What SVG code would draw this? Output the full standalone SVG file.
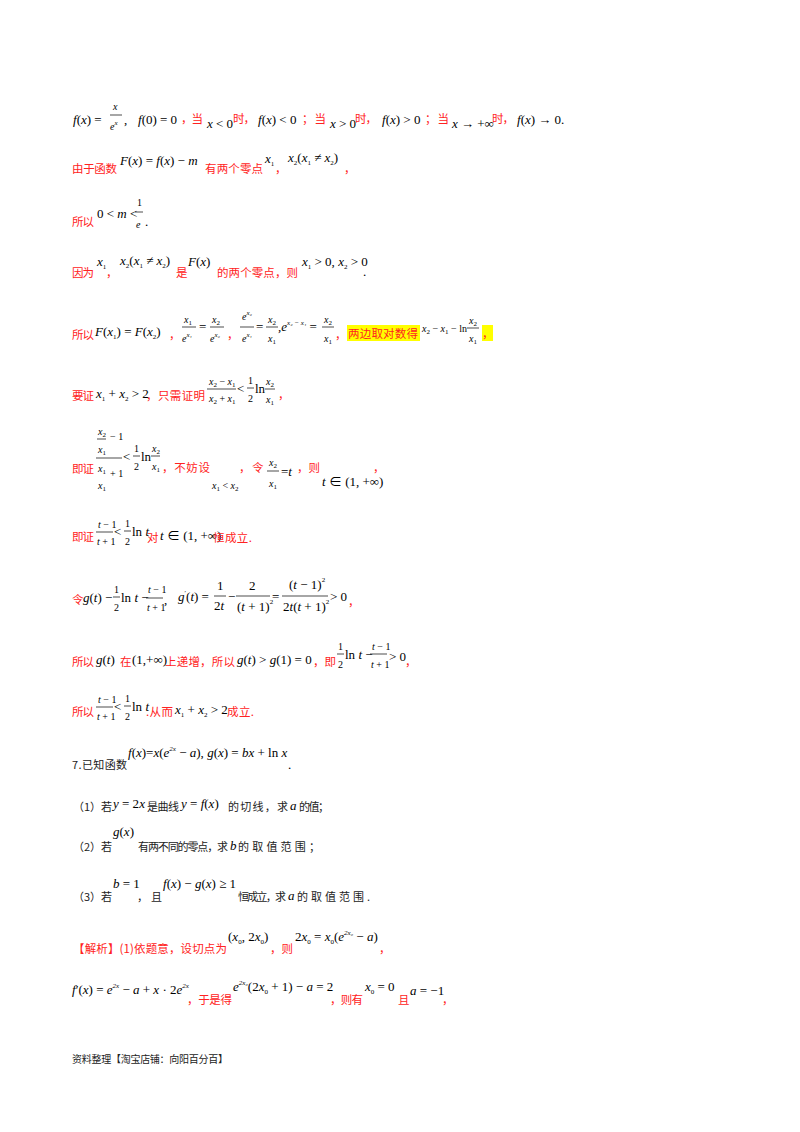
<svg xmlns="http://www.w3.org/2000/svg" width="800" height="1132" viewBox="0 0 800 1132">
<style>
text{font-family:"Liberation Serif","Noto Sans CJK SC",serif;font-size:13px;fill:#000}
.m{font-style:italic}
.u{font-style:normal}
.r{font-family:"Noto Sans CJK SC",sans-serif;fill:#f22;font-size:11.5px;font-style:normal}
.k{font-family:"Noto Sans CJK SC",sans-serif;font-size:11px;fill:#222}
.ft{font-family:"Noto Sans CJK SC",sans-serif;font-size:10px;fill:#222}
.s{font-size:10px}
.t{font-size:7px}
.f{stroke:#000;stroke-width:0.7}
</style>
<rect width="800" height="1132" fill="#fff"/>
<g id="line1">
<text x="73" y="124" class="m">f<tspan class="u">(</tspan>x<tspan class="u">) =</tspan></text>
<text x="113" y="110" class="m s">x</text><line class="f" x1="110" y1="115" x2="122" y2="115"/><text x="110" y="130" class="m s">e<tspan class="t" dy="-5">x</tspan></text>
<text x="124" y="124" class="u">,</text>
<text x="138" y="124" class="m">f<tspan class="u">(0) = 0</tspan></text><text x="181" y="123" class="r" textLength="22">，当</text>
<text x="207" y="128" class="m">x<tspan class="u"> &lt; 0</tspan></text><text x="233" y="123" class="r" textLength="22">时，</text>
<text x="258" y="124" class="m">f<tspan class="u">(</tspan>x<tspan class="u">) &lt; 0</tspan></text><text x="302" y="123" class="r" textLength="24">；当</text>
<text x="330" y="128" class="m">x<tspan class="u"> &gt; 0</tspan></text><text x="355" y="123" class="r" textLength="22">时，</text>
<text x="382" y="124" class="m">f<tspan class="u">(</tspan>x<tspan class="u">) &gt; 0</tspan></text><text x="425" y="123" class="r" textLength="24">；当</text>
<text x="452" y="128" class="m">x<tspan class="u"> → +∞</tspan></text><text x="492" y="123" class="r" textLength="22">时，</text>
<text x="517" y="124" class="m">f<tspan class="u">(</tspan>x<tspan class="u">) → 0.</tspan></text>
</g>
<g id="line2">
<text x="72" y="173" class="r" textLength="45">由于函数</text>
<text x="120" y="165" class="m">F<tspan class="u">(</tspan>x<tspan class="u">) = </tspan>f<tspan class="u">(</tspan>x<tspan class="u">) − </tspan>m</text>
<text x="205" y="173" class="r" textLength="58">有两个零点</text>
<text x="265" y="163" class="m">x<tspan class="u t" dy="3">1</tspan></text><text x="275" y="173" class="r">，</text>
<text x="288" y="162" class="m">x<tspan class="u t" dy="3">2</tspan><tspan class="u" dy="-3">(</tspan>x<tspan class="u t" dy="3">1</tspan><tspan class="u" dy="-3"> ≠ </tspan>x<tspan class="u t" dy="3">2</tspan><tspan class="u" dy="-3">)</tspan></text>
<text x="344" y="173" class="r">，</text>
</g>
<g id="line3">
<text x="72" y="226" class="r" textLength="22">所以</text>
<text x="97" y="218" class="u">0 &lt; <tspan class="m">m</tspan> &lt;</text>
<text x="137" y="206" class="u s">1</text><line class="f" x1="135" y1="212" x2="143" y2="212"/><text x="136" y="228" class="m s">e</text>
<text x="145" y="226" class="u">.</text>
</g>
<g id="line4">
<text x="72" y="277" class="r" textLength="22">因为</text>
<text x="97" y="266" class="m">x<tspan class="u t" dy="3">1</tspan></text><text x="106" y="277" class="r">，</text>
<text x="120" y="265" class="m">x<tspan class="u t" dy="3">2</tspan><tspan class="u" dy="-3">(</tspan>x<tspan class="u t" dy="3">1</tspan><tspan class="u" dy="-3"> ≠ </tspan>x<tspan class="u t" dy="3">2</tspan><tspan class="u" dy="-3">)</tspan></text>
<text x="176" y="277" class="r">是</text>
<text x="188" y="266" class="m">F<tspan class="u">(</tspan>x<tspan class="u">)</tspan></text>
<text x="217" y="277" class="r" textLength="81">的两个零点，则</text>
<text x="302" y="266" class="m">x<tspan class="u t" dy="3">1</tspan><tspan class="u" dy="-3"> &gt; 0, </tspan>x<tspan class="u t" dy="3">2</tspan><tspan class="u" dy="-3"> &gt; 0</tspan></text>
<text x="363" y="276" class="u">.</text>
</g>
<g id="line5">
<text x="72" y="339" class="r" textLength="22">所以</text>
<text x="95" y="336" class="m">F<tspan class="u">(</tspan>x<tspan class="u t" dy="3">1</tspan><tspan class="u" dy="-3">) = </tspan>F<tspan class="u">(</tspan>x<tspan class="u t" dy="3">2</tspan><tspan class="u" dy="-3">)</tspan></text>
<text x="169" y="339" class="r">，</text>
<text x="184" y="323" class="m s">x<tspan class="u t" dy="2">1</tspan></text><line class="f" x1="182" y1="327" x2="196" y2="327"/><text x="182" y="342" class="m s">e<tspan class="t" dy="-5">x₁</tspan></text>
<text x="199" y="331" class="u">=</text>
<text x="212" y="323" class="m s">x<tspan class="u t" dy="2">2</tspan></text><line class="f" x1="210" y1="327" x2="224" y2="327"/><text x="210" y="342" class="m s">e<tspan class="t" dy="-5">x₂</tspan></text>
<text x="227" y="339" class="r">，</text>
<text x="242" y="320" class="m s">e<tspan class="t" dy="-5">x₂</tspan></text><line class="f" x1="240" y1="327" x2="254" y2="327"/><text x="242" y="342" class="m s">e<tspan class="t" dy="-5">x₁</tspan></text>
<text x="256" y="331" class="u">=</text>
<text x="268" y="323" class="m s">x<tspan class="u t" dy="2">2</tspan></text><line class="f" x1="266" y1="327" x2="278" y2="327"/><text x="268" y="342" class="m s">x<tspan class="u t" dy="2">1</tspan></text>
<text x="278" y="331" class="m">,e<tspan class="t" dy="-6">x₂ − x₁</tspan><tspan class="u" dy="6"> =</tspan></text>
<text x="324" y="323" class="m s">x<tspan class="u t" dy="2">2</tspan></text><line class="f" x1="322" y1="327" x2="334" y2="327"/><text x="324" y="342" class="m s">x<tspan class="u t" dy="2">1</tspan></text>
<text x="335" y="339" class="r">，</text>
<rect x="347" y="325" width="73" height="16" fill="#ff0"/>
<text x="348" y="338" class="r" textLength="70">两边取对数得</text>
<text x="422" y="332" class="m s">x<tspan class="u t" dy="2">2</tspan><tspan class="u" dy="-2"> − </tspan>x<tspan class="u t" dy="2">1</tspan><tspan class="u" dy="-2"> − ln</tspan></text>
<text x="469" y="324" class="m s">x<tspan class="u t" dy="2">2</tspan></text><line class="f" x1="467" y1="328" x2="479" y2="328"/><text x="469" y="342" class="m s">x<tspan class="u t" dy="2">1</tspan></text>
<rect x="482" y="325" width="11" height="16" fill="#ff0"/><text x="482" y="338" class="r">，</text>
</g>
<g id="line6">
<text x="72" y="400" class="r" textLength="22">要证</text>
<text x="96" y="398" class="m">x<tspan class="u t" dy="3">1</tspan><tspan class="u" dy="-3"> + </tspan>x<tspan class="u t" dy="3">2</tspan><tspan class="u" dy="-3"> &gt; 2</tspan></text>
<text x="146" y="400" class="r" textLength="59">，只需证明</text>
<text x="209" y="385" class="m s">x<tspan class="u t" dy="2">2</tspan><tspan class="u" dy="-2"> − </tspan>x<tspan class="u t" dy="2">1</tspan></text><line class="f" x1="207" y1="389" x2="236" y2="389"/><text x="209" y="402" class="m s">x<tspan class="u t" dy="2">2</tspan><tspan class="u" dy="-2"> + </tspan>x<tspan class="u t" dy="2">1</tspan></text>
<text x="237" y="393" class="u">&lt;</text>
<text x="248" y="384" class="u s">1</text><line class="f" x1="247" y1="388" x2="254" y2="388"/><text x="248" y="402" class="u s">2</text>
<text x="255" y="393" class="u">ln</text>
<text x="266" y="385" class="m s">x<tspan class="u t" dy="2">2</tspan></text><line class="f" x1="265" y1="389" x2="275" y2="389"/><text x="266" y="403" class="m s">x<tspan class="u t" dy="2">1</tspan></text>
<text x="278" y="399" class="r">，</text>
</g>
<g id="line7">
<text x="72" y="473" class="r" textLength="22">即证</text>
<text x="98" y="435" class="m s">x<tspan class="u t" dy="2">2</tspan></text><line class="f" x1="97" y1="439" x2="106" y2="439"/><text x="110" y="440" class="u s">− 1</text>
<text x="98" y="453" class="m s">x<tspan class="u t" dy="2">1</tspan></text>
<line class="f" x1="96" y1="458" x2="122" y2="458"/>
<text x="98" y="472" class="m s">x<tspan class="u t" dy="2">1</tspan></text><text x="110" y="477" class="u s">+ 1</text>
<text x="98" y="489" class="m s">x<tspan class="u t" dy="2">1</tspan></text>
<text x="123" y="461" class="u">&lt;</text>
<text x="134" y="452" class="u s">1</text><line class="f" x1="133" y1="456" x2="140" y2="456"/><text x="134" y="470" class="u s">2</text>
<text x="141" y="461" class="u">ln</text>
<text x="152" y="452" class="m s">x<tspan class="u t" dy="2">2</tspan></text><line class="f" x1="151" y1="456" x2="160" y2="456"/><text x="152" y="470" class="m s">x<tspan class="u t" dy="2">1</tspan></text>
<text x="162" y="472" class="r" textLength="48">，不妨设</text>
<text x="212" y="489" class="m s">x<tspan class="u t" dy="2">1</tspan><tspan class="u" dy="-2"> &lt; </tspan>x<tspan class="u t" dy="2">2</tspan></text>
<text x="239" y="472" class="r">，</text>
<text x="252" y="472" class="r">令</text>
<text x="269" y="466" class="m s">x<tspan class="u t" dy="2">2</tspan></text><line class="f" x1="267" y1="471" x2="279" y2="471"/><text x="269" y="487" class="m s">x<tspan class="u t" dy="2">1</tspan></text>
<text x="281" y="476" class="m"><tspan class="u">=</tspan>t</text>
<text x="297" y="472" class="r" textLength="23">，则</text>
<text x="322" y="486" class="m">t<tspan class="u"> ∈ (1, +∞)</tspan></text>
<text x="373" y="472" class="r">，</text>
</g>
<g id="line8">
<text x="72" y="541" class="r" textLength="22">即证</text>
<text x="98" y="528" class="m s">t<tspan class="u"> − 1</tspan></text><line class="f" x1="96" y1="532" x2="113" y2="532"/><text x="97" y="545" class="m s">t<tspan class="u"> + 1</tspan></text>
<text x="114" y="536" class="u">&lt;</text>
<text x="125" y="527" class="u s">1</text><line class="f" x1="124" y1="531" x2="131" y2="531"/><text x="125" y="545" class="u s">2</text>
<text x="132" y="536" class="u">ln<tspan class="m"> t</tspan></text>
<text x="147" y="542" class="r">对</text>
<text x="160" y="540" class="m">t<tspan class="u"> ∈ (1, +∞)</tspan></text>
<text x="213" y="542" class="r" textLength="39">恒成立.</text>
</g>
<g id="line9">
<text x="72" y="604" class="r">令</text>
<text x="83" y="602" class="m">g<tspan class="u">(</tspan>t<tspan class="u">) −</tspan></text>
<text x="114" y="593" class="u s">1</text><line class="f" x1="113" y1="597" x2="120" y2="597"/><text x="114" y="611" class="u s">2</text>
<text x="121" y="602" class="u">ln<tspan class="m"> t</tspan> −</text>
<text x="148" y="593" class="m s">t<tspan class="u"> − 1</tspan></text><line class="f" x1="146" y1="598" x2="163" y2="598"/><text x="147" y="611" class="m s">t<tspan class="u"> + 1</tspan></text>
<text x="164" y="604" class="u">,</text>
<text x="178" y="601" class="m">g<tspan class="u t" dy="-6">′</tspan><tspan class="u" dy="6">(</tspan>t<tspan class="u">) =</tspan></text>
<text x="217" y="590" class="u">1</text><line class="f" x1="214" y1="596" x2="226" y2="596"/><text x="214" y="610" class="u">2<tspan class="m">t</tspan></text>
<text x="228" y="601" class="u">−</text>
<text x="249" y="590" class="u">2</text><line class="f" x1="236" y1="596" x2="270" y2="596"/><text x="237" y="611" class="u">(<tspan class="m">t</tspan> + 1)<tspan class="t" dy="-7">2</tspan></text>
<text x="272" y="601" class="u">=</text>
<text x="289" y="589" class="u">(<tspan class="m">t</tspan> − 1)<tspan class="t" dy="-7">2</tspan></text><line class="f" x1="282" y1="596" x2="328" y2="596"/><text x="283" y="611" class="u">2<tspan class="m">t</tspan>(<tspan class="m">t</tspan> + 1)<tspan class="t" dy="-7">2</tspan></text>
<text x="330" y="601" class="u">&gt; 0</text>
<text x="348" y="606" class="r">，</text>
</g>
<g id="line10">
<text x="72" y="666" class="r" textLength="22">所以</text>
<text x="96" y="664" class="m">g<tspan class="u">(</tspan>t<tspan class="u">)</tspan></text>
<text x="120" y="666" class="r">在</text>
<text x="132" y="664" class="u">(1,+∞)</text>
<text x="165" y="666" class="r" textLength="70">上递增，所以</text>
<text x="237" y="664" class="m">g<tspan class="u">(</tspan>t<tspan class="u">) &gt; </tspan>g<tspan class="u">(1) = 0</tspan></text>
<text x="313" y="666" class="r" textLength="23">，即</text>
<text x="338" y="650" class="u s">1</text><line class="f" x1="337" y1="654" x2="344" y2="654"/><text x="338" y="668" class="u s">2</text>
<text x="345" y="659" class="u">ln<tspan class="m"> t</tspan> −</text>
<text x="372" y="650" class="m s">t<tspan class="u"> − 1</tspan></text><line class="f" x1="370" y1="654" x2="387" y2="654"/><text x="371" y="668" class="m s">t<tspan class="u"> + 1</tspan></text>
<text x="389" y="661" class="u">&gt; 0</text>
<text x="405" y="666" class="r">，</text>
</g>
<g id="line11">
<text x="72" y="716" class="r" textLength="22">所以</text>
<text x="98" y="703" class="m s">t<tspan class="u"> − 1</tspan></text><line class="f" x1="96" y1="707" x2="113" y2="707"/><text x="97" y="720" class="m s">t<tspan class="u"> + 1</tspan></text>
<text x="114" y="711" class="u">&lt;</text>
<text x="125" y="702" class="u s">1</text><line class="f" x1="124" y1="706" x2="131" y2="706"/><text x="125" y="720" class="u s">2</text>
<text x="132" y="711" class="u">ln<tspan class="m"> t</tspan></text>
<text x="146" y="716" class="r" textLength="27">.从而</text>
<text x="175" y="714" class="m">x<tspan class="u t" dy="3">1</tspan><tspan class="u" dy="-3"> + </tspan>x<tspan class="u t" dy="3">2</tspan><tspan class="u" dy="-3"> &gt; 2</tspan></text>
<text x="227" y="716" class="r" textLength="27">成立.</text>
</g>
<g id="problem">
<text x="72" y="769" class="k" textLength="55">7.已知函数</text>
<text x="128" y="757" class="m">f<tspan class="u">(</tspan>x<tspan class="u">)=</tspan>x<tspan class="u">(</tspan>e<tspan class="t" dy="-6">2x</tspan><tspan class="u" dy="6"> − </tspan>a<tspan class="u">), </tspan>g<tspan class="u">(</tspan>x<tspan class="u">) = </tspan>bx<tspan class="u"> + ln </tspan>x</text>
<text x="288" y="769" class="u">.</text>
<text x="73" y="811" class="k" textLength="39">（1）若</text>
<text x="113" y="808" class="m">y<tspan class="u"> = 2</tspan>x</text>
<text x="147" y="811" class="k" textLength="32">是曲线</text>
<text x="181" y="808" class="m">y<tspan class="u"> = </tspan>f<tspan class="u">(</tspan>x<tspan class="u">)</tspan></text>
<text x="228" y="811" class="k" textLength="60">的切线，求</text>
<text x="290" y="810" class="m">a</text>
<text x="299" y="811" class="k" textLength="30">的值；</text>
<text x="73" y="851" class="k" textLength="39">（2）若</text>
<text x="113" y="836" class="m">g<tspan class="u">(</tspan>x<tspan class="u">)</tspan></text>
<text x="138" y="851" class="k" textLength="90">有两不同的零点，求</text>
<text x="230" y="850" class="m">b</text>
<text x="238" y="851" class="k" textLength="82">的取值范围；</text>
<text x="73" y="901" class="k" textLength="39">（3）若</text>
<text x="113" y="888" class="m">b<tspan class="u"> = 1</tspan></text>
<text x="137" y="901" class="k" textLength="25">，且</text>
<text x="163" y="888" class="m">f<tspan class="u">(</tspan>x<tspan class="u">) − </tspan>g<tspan class="u">(</tspan>x<tspan class="u">) ≥ 1</tspan></text>
<text x="238" y="901" class="k" textLength="48">恒成立，求</text>
<text x="288" y="900" class="m">a</text>
<text x="297" y="901" class="k" textLength="73">的取值范围.</text>
</g>
<g id="solution">
<text x="73" y="953" class="r" textLength="154">【解析】(1)依题意，设切点为</text>
<text x="228" y="941" class="m"><tspan class="u">(</tspan>x<tspan class="u t" dy="3">0</tspan><tspan class="u" dy="-3">, 2</tspan>x<tspan class="u t" dy="3">0</tspan><tspan class="u" dy="-3">)</tspan></text>
<text x="270" y="953" class="r" textLength="23">，则</text>
<text x="295" y="941" class="m"><tspan class="u">2</tspan>x<tspan class="u t" dy="3">0</tspan><tspan class="u" dy="-3"> = </tspan>x<tspan class="u t" dy="3">0</tspan><tspan class="u" dy="-3">(</tspan>e<tspan class="t" dy="-6">2x₀</tspan><tspan class="u" dy="6"> − </tspan>a<tspan class="u">)</tspan></text>
<text x="379" y="953" class="r">，</text>
<text x="72" y="994" class="m">f<tspan class="u">′(</tspan>x<tspan class="u">) = </tspan>e<tspan class="t" dy="-6">2x</tspan><tspan class="u" dy="6"> − </tspan>a<tspan class="u"> + </tspan>x<tspan class="u"> · 2</tspan>e<tspan class="t" dy="-6">2x</tspan></text>
<text x="187" y="1004" class="r" textLength="45">，于是得</text>
<text x="233" y="991" class="m">e<tspan class="t" dy="-6">2x₀</tspan><tspan class="u" dy="6">(2</tspan>x<tspan class="u t" dy="3">0</tspan><tspan class="u" dy="-3"> + 1) − </tspan>a<tspan class="u"> = 2</tspan></text>
<text x="330" y="1004" class="r" textLength="33">，则有</text>
<text x="365" y="991" class="m">x<tspan class="u t" dy="3">0</tspan><tspan class="u" dy="-3"> = 0</tspan></text>
<text x="398" y="1004" class="r">且</text>
<text x="410" y="995" class="m">a<tspan class="u"> = −1</tspan></text>
<text x="442" y="1004" class="r">，</text>
</g>
<text x="72" y="1063" class="ft" textLength="156">资料整理【淘宝店铺：向阳百分百】</text>
</svg>
